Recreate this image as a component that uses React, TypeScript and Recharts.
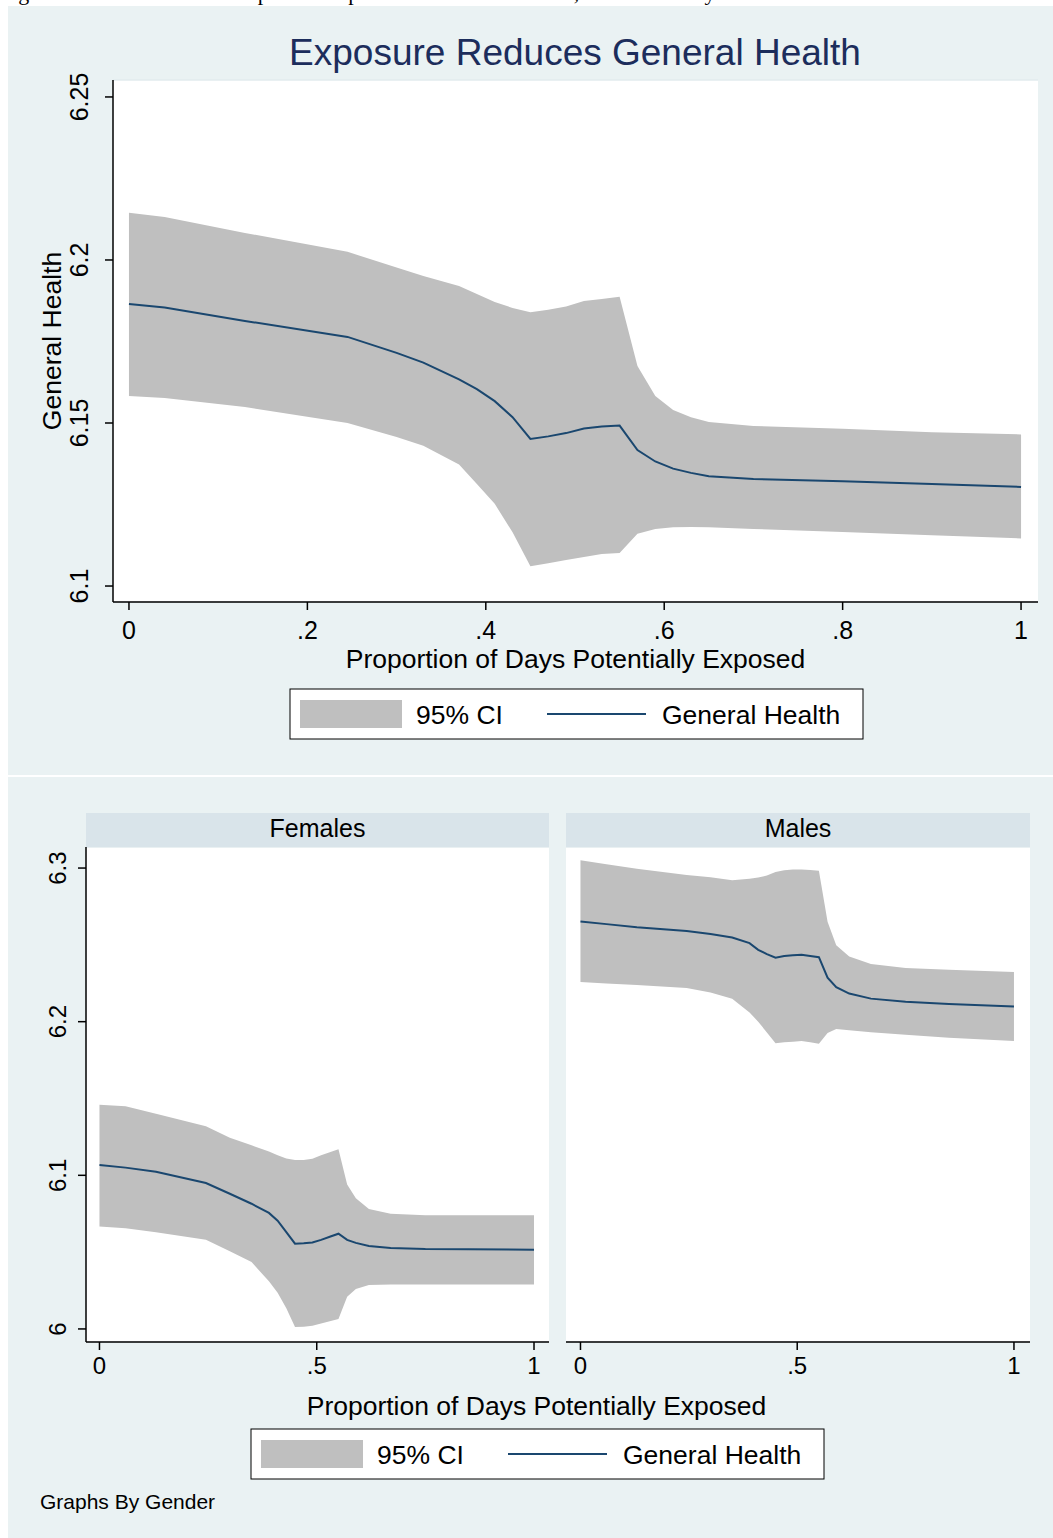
import React from 'react';
import { ComposedChart, Area, Line, XAxis, YAxis, CartesianGrid } from 'recharts';

// overall fit
const topX = [0, 0.04, 0.13, 0.245, 0.3, 0.33, 0.37, 0.39, 0.41, 0.43, 0.45, 0.47, 0.49, 0.51, 0.53, 0.55, 0.57, 0.59, 0.61, 0.63, 0.65, 0.7, 0.8, 0.9, 1];
const topUpper = [6.2145, 6.2132, 6.2083, 6.2025, 6.1977, 6.1951, 6.192, 6.1896, 6.1871, 6.1853, 6.184, 6.1847, 6.1857, 6.1874, 6.188, 6.1887, 6.1675, 6.1583, 6.154, 6.1518, 6.1503, 6.1491, 6.1482, 6.1472, 6.1465];
const topFit = [6.1865, 6.1854, 6.1813, 6.1764, 6.1715, 6.1685, 6.1634, 6.1604, 6.1567, 6.1518, 6.1451, 6.1459, 6.1469, 6.1483, 6.1489, 6.1492, 6.1417, 6.1382, 6.136, 6.1347, 6.1337, 6.1328, 6.1321, 6.1313, 6.1304];
const topLower = [6.1583, 6.1577, 6.1549, 6.15, 6.1457, 6.143, 6.1373, 6.1313, 6.1252, 6.1165, 6.1061, 6.107, 6.108, 6.1089, 6.1098, 6.1101, 6.116, 6.1175, 6.118, 6.1181, 6.118, 6.1175, 6.1166, 6.1156, 6.1146];
const topXTicks = [0, 0.2, 0.4, 0.6, 0.8, 1];
const topYTicks = [6.1, 6.15, 6.2, 6.25];
const topGridTicks = [6.1, 6.15, 6.2];

// by gender
const bottomX = [0, 0.06, 0.13, 0.245, 0.3, 0.35, 0.39, 0.41, 0.43, 0.45, 0.47, 0.49, 0.51, 0.53, 0.55, 0.57, 0.59, 0.62, 0.67, 0.75, 0.85, 1];
const femUpper = [6.146, 6.145, 6.14, 6.132, 6.1245, 6.1195, 6.1155, 6.113, 6.111, 6.11, 6.11, 6.1108, 6.113, 6.115, 6.117, 6.094, 6.085, 6.078, 6.075, 6.074, 6.074, 6.074];
const femFit = [6.1067, 6.105, 6.1023, 6.095, 6.088, 6.0815, 6.0755, 6.0705, 6.063, 6.0555, 6.0557, 6.0563, 6.058, 6.06, 6.062, 6.058, 6.056, 6.054, 6.0527, 6.052, 6.0518, 6.0516];
const femLower = [6.0666, 6.0655, 6.063, 6.058, 6.0505, 6.0435, 6.031, 6.0235, 6.0135, 6.0013, 6.0015, 6.002, 6.0035, 6.005, 6.0065, 6.021, 6.026, 6.0286, 6.029, 6.029, 6.029, 6.029];
const maleUpper = [6.305, 6.3025, 6.2995, 6.2955, 6.294, 6.292, 6.293, 6.2938, 6.2952, 6.2975, 6.2985, 6.299, 6.299, 6.2988, 6.2983, 6.265, 6.2498, 6.2424, 6.2375, 6.235, 6.2338, 6.2324];
const maleFit = [6.2652, 6.2635, 6.2615, 6.259, 6.257, 6.2548, 6.2511, 6.2468, 6.244, 6.2416, 6.2427, 6.2432, 6.2436, 6.2428, 6.242, 6.2287, 6.2225, 6.2183, 6.215, 6.213, 6.2115, 6.2098];
const maleLower = [6.2258, 6.2248, 6.2238, 6.222, 6.219, 6.215, 6.206, 6.2, 6.193, 6.186, 6.1866, 6.187, 6.1874, 6.1866, 6.1857, 6.1927, 6.1952, 6.1945, 6.1932, 6.1915, 6.1895, 6.1874];
const bottomXTicks = [0, 0.5, 1];
const bottomYTicks = [6, 6.1, 6.2, 6.3];

const FONT = "'Liberation Sans', Arial, Helvetica, sans-serif";
const BG = '#eaf2f3';
const HEADER = '#d9e4ea';
const GRID = '#e2ebee';
const BAND = '#bfbfbf';
const NAVY = '#1a476f';

const makeRows = (xs: number[], lo: number[], fit: number[], hi: number[]) =>
  xs.map((x, i) => ({ x, ci: [lo[i], hi[i]], fit: fit[i] }));

const topRows = makeRows(topX, topLower, topFit, topUpper);
const femRows = makeRows(bottomX, femLower, femFit, femUpper);
const maleRows = makeRows(bottomX, maleLower, maleFit, maleUpper);

const fmtX = (v: number) => (v === 0 || v === 1 ? String(v) : String(v).replace(/^0/, ''));

const xTick = (fs: number, dy: number) => (props: any) => {
  const { x, y, payload } = props;
  return (
    <text x={x} y={y + dy} textAnchor="middle" fontSize={fs} fontFamily={FONT} fill="#000">
      {fmtX(payload.value)}
    </text>
  );
};

const yTick = (fs: number, dx: number) => (props: any) => {
  const { x, y, payload } = props;
  const tx = x + dx;
  return (
    <text x={tx} y={y} textAnchor="middle" fontSize={fs} fontFamily={FONT} fill="#000"
      transform={`rotate(-90 ${tx} ${y})`}>
      {String(payload.value)}
    </text>
  );
};

interface PanelProps {
  rows: { x: number; ci: number[]; fit: number }[];
  width: number;
  height: number;
  margin: { top: number; right: number; bottom: number; left: number };
  xDomain: number[];
  yDomain: number[];
  xTicks: number[];
  yTicks: number[];
  gridTicks: number[];
  yWidth: number;
  showY: boolean;
  fs: number;
  xdy: number;
  ydx: number;
}

const Panel: React.FC<PanelProps> = ({ rows, width, height, margin, xDomain, yDomain, xTicks, yTicks, gridTicks, yWidth, showY, fs, xdy, ydx }) => (
  <ComposedChart width={width} height={height} data={rows} margin={margin}>
    <CartesianGrid vertical={false} yAxisId="grid" stroke={GRID} strokeWidth={1.5} fill="#fff" fillOpacity={1} />
    <XAxis type="number" dataKey="x" domain={xDomain} ticks={xTicks} allowDataOverflow height={40}
      stroke="#000" strokeWidth={1.5} tickSize={8} tick={xTick(fs, xdy)} interval={0} />
    <YAxis yAxisId="main" type="number" domain={yDomain} ticks={yTicks} allowDataOverflow width={yWidth}
      stroke="#000" strokeWidth={1.5} tickSize={8} interval={0}
      axisLine={showY} tickLine={showY} tick={showY ? yTick(fs, ydx) : false} />
    <YAxis yAxisId="grid" type="number" domain={yDomain} ticks={gridTicks} allowDataOverflow width={0}
      axisLine={false} tickLine={false} tick={false} interval={0} />
    <Area yAxisId="main" type="linear" dataKey="ci" stroke="none" fill={BAND} fillOpacity={1} isAnimationActive={false} />
    <Line yAxisId="main" type="linear" dataKey="fit" stroke={NAVY} strokeWidth={2} dot={false} activeDot={false} isAnimationActive={false} />
  </ComposedChart>
);

const abs = (left: number, top: number, extra: React.CSSProperties = {}): React.CSSProperties => ({
  position: 'absolute', left, top, ...extra,
});

const LegendBox: React.FC<{ x: number; y: number }> = ({ x, y }) => (
  <g fontFamily={FONT} fontSize={26.5} fill="#000">
    <rect x={x} y={y} width={573} height={50} fill="#fff" stroke="#000" strokeWidth={1} />
    <rect x={x + 10} y={y + 11} width={102} height={28} fill={BAND} />
    <text x={x + 126} y={y + 34.5}>95% CI</text>
    <line x1={x + 257} x2={x + 356} y1={y + 25} y2={y + 25} stroke={NAVY} strokeWidth={2} />
    <text x={x + 372} y={y + 34.5}>General Health</text>
  </g>
);

export default function App() {
  return (
    <div style={abs(0, 0, { width: 1053, height: 1538, background: '#fff', overflow: 'hidden' })}>
      <div style={abs(0, 0, { width: 1053, height: 6, overflow: 'hidden' })}>
        <div style={{ position: 'absolute', left: 0, top: -18, fontFamily: "'Liberation Serif', serif", fontSize: 22, lineHeight: '22px', whiteSpace: 'nowrap' }}>
          Figure 5: Potential Health Impact of Exposure on General Health, Overall and by Gender
        </div>
      </div>
      <div style={abs(8, 6, { width: 1045, height: 769, background: BG })} />
      <div style={abs(8, 777, { width: 1045, height: 761, background: BG })} />

      <div style={abs(0, 0)}>
        <Panel rows={topRows} width={1053} height={700}
          margin={{ top: 80, right: 15, bottom: 58, left: 53 }}
          xDomain={[-0.0179, 1.019]} yDomain={[6.0951, 6.2552]}
          xTicks={topXTicks} yTicks={topYTicks} gridTicks={topGridTicks} yWidth={60} showY fs={25} xdy={27} ydx={-15} />
      </div>
      <div style={abs(0, 800)}>
        <Panel rows={femRows} width={560} height={600}
          margin={{ top: 47, right: 11, bottom: 18, left: 36 }}
          xDomain={[-0.031, 1.0345]} yDomain={[5.9915, 6.3137]}
          xTicks={bottomXTicks} yTicks={bottomYTicks} gridTicks={bottomYTicks} yWidth={50} showY fs={24} xdy={21.5} ydx={-9.5} />
      </div>
      <div style={abs(540, 800)}>
        <Panel rows={maleRows} width={520} height={600}
          margin={{ top: 47, right: 30, bottom: 18, left: 26 }}
          xDomain={[-0.0334, 1.037]} yDomain={[5.9915, 6.3137]}
          xTicks={bottomXTicks} yTicks={bottomYTicks} gridTicks={bottomYTicks} yWidth={0} showY={false} fs={24} xdy={21.5} ydx={0} />
      </div>

      <svg width={1053} height={1538} style={abs(0, 0, { pointerEvents: 'none' })}>
        <text x={575} y={65} textAnchor="middle" fontFamily={FONT} fontSize={37} fill="#1c2d5c">
          Exposure Reduces General Health
        </text>
        <text x={61} y={341} textAnchor="middle" fontFamily={FONT} fontSize={26.5} fill="#000"
          transform="rotate(-90 61 341)">General Health</text>
        <text x={575.5} y={668} textAnchor="middle" fontFamily={FONT} fontSize={26.5} fill="#000">
          Proportion of Days Potentially Exposed
        </text>
        <LegendBox x={290} y={689} />

        <rect x={86} y={813} width={463} height={34} fill={HEADER} />
        <text x={317.5} y={837} textAnchor="middle" fontFamily={FONT} fontSize={25} fill="#000">Females</text>
        <rect x={566} y={813} width={464} height={34} fill={HEADER} />
        <text x={798} y={837} textAnchor="middle" fontFamily={FONT} fontSize={25} fill="#000">Males</text>

        <text x={536.5} y={1415} textAnchor="middle" fontFamily={FONT} fontSize={26.5} fill="#000">
          Proportion of Days Potentially Exposed
        </text>
        <LegendBox x={251} y={1429} />
        <text x={40} y={1509} fontFamily={FONT} fontSize={21} fill="#000">Graphs By Gender</text>
      </svg>
    </div>
  );
}
